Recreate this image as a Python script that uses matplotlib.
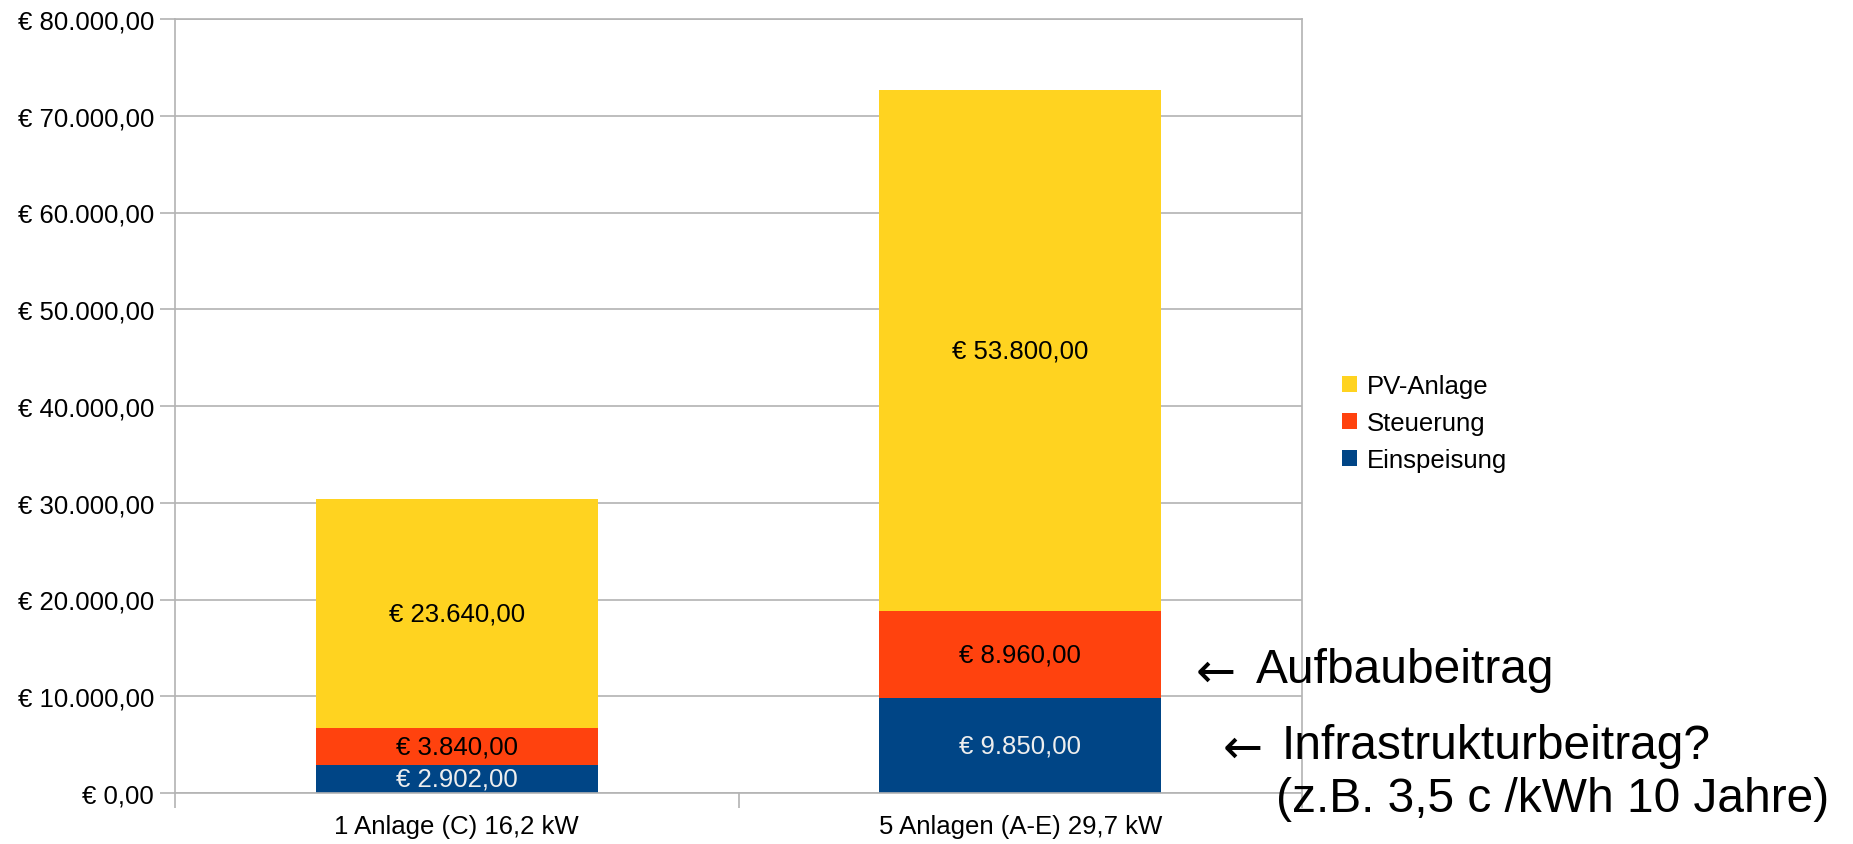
import matplotlib
matplotlib.use("Agg")
import matplotlib.pyplot as plt
import numpy as np
from matplotlib.patches import Patch
from matplotlib.ticker import FuncFormatter, FixedLocator

plt.rcParams["font.family"] = ["Liberation Sans", "DejaVu Sans"]

# data
categories = ["1 Anlage (C) 16,2 kW", "5 Anlagen (A-E) 29,7 kW"]
einspeisung = [2902, 9850]
steuerung = [3840, 8960]
pv_anlage = [23640, 53800]

series_names = ["Einspeisung", "Steuerung", "PV-Anlage"]
series_colors = ["#004586", "#ff420e", "#ffd320"]
label_colors = ["#eeeeee", "#000000", "#000000"]


def euro(v, pos=None):
    s = f"{v:,.2f}".replace(",", "X").replace(".", ",").replace("X", ".")
    return f"€ {s}"


W, H = 1853, 845
fig = plt.figure(figsize=(W / 100, H / 100), dpi=100)
ax = fig.add_axes([175 / W, (H - 794) / H, 1127 / W, 774 / H])

x = np.arange(len(categories))
bottom = np.zeros(len(categories))
for vals, name, col, tcol in zip(
    [einspeisung, steuerung, pv_anlage], series_names, series_colors, label_colors
):
    vals = np.array(vals, dtype=float)
    ax.bar(x, vals, 0.5, bottom=bottom, color=col, label=name, zorder=2)
    for xi, b, v in zip(x, bottom, vals):
        ax.text(xi, b + v / 2, euro(v), ha="center", va="center",
                fontsize=18.5, color=tcol, zorder=3)
    bottom += vals

ax.set_xlim(-0.5, len(categories) - 0.5)
ax.set_ylim(0, 80000)
ax.set_yticks(np.arange(0, 80001, 10000))
ax.yaxis.set_major_formatter(FuncFormatter(euro))
ax.grid(axis="y", color="#b3b3b3", linewidth=1.2, zorder=0)

ax.set_xticks(x)
ax.set_xticklabels(categories)
ax.xaxis.set_minor_locator(FixedLocator([-0.5, 0.5, 1.5]))
ax.tick_params(axis="x", which="major", length=0, pad=15, labelsize=18.5)
ax.tick_params(axis="x", which="minor", length=11, color="#b3b3b3", width=1.2)
ax.tick_params(axis="y", length=11, color="#b3b3b3", width=1.2, pad=4,
               labelsize=18.5)
for sp in ax.spines.values():
    sp.set_color("#b3b3b3")
    sp.set_linewidth(1.2)

handles = [Patch(facecolor=c, edgecolor="none") for c in series_colors][::-1]
fig.legend(handles, series_names[::-1], loc="center left",
           bbox_to_anchor=(1342 / W, (H - 424) / H), frameon=False,
           fontsize=18.5, handlelength=0.6, handleheight=0.6,
           handletextpad=0.35, labelspacing=0.5, borderpad=0,
           borderaxespad=0)

arrow_font = ["DejaVu Sans"]
fig.text(1196 / W, (H - 673) / H, "←", fontsize=34.5, family=arrow_font,
         ha="left", va="center")
fig.text(1256 / W, (H - 671) / H, "Aufbaubeitrag", fontsize=34.5,
         ha="left", va="center")
fig.text(1223 / W, (H - 749) / H, "←", fontsize=34.5, family=arrow_font,
         ha="left", va="center")
fig.text(1282 / W, (H - 747) / H, "Infrastrukturbeitrag?", fontsize=34.5,
         ha="left", va="center")
fig.text(1276 / W, (H - 800) / H, "(z.B. 3,5 c /kWh 10 Jahre)", fontsize=34.5,
         ha="left", va="center")

fig.savefig("out.png", dpi=100)
